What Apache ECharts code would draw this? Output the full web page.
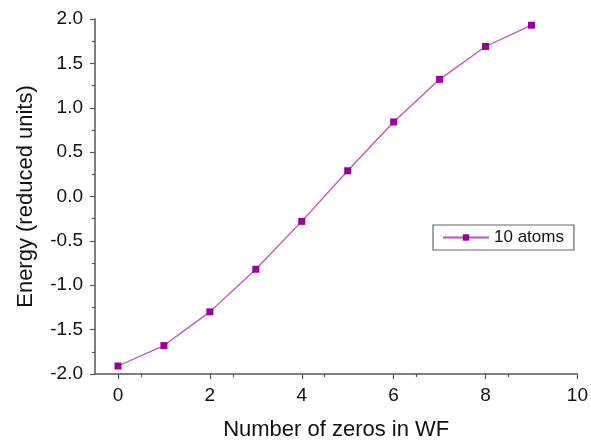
<!DOCTYPE html>
<html>
<head>
<meta charset="utf-8">
<script src="https://cdn.jsdelivr.net/npm/echarts@6/dist/echarts.min.js"></script>
<style>html,body{margin:0;padding:0;background:#fff;}#c{width:591px;height:446px;}</style>
</head>
<body>
<div id="c"></div>
<script>
const zerosX = [0, 1, 2, 3, 4, 5, 6, 7, 8, 9];
const energy = [-1.91, -1.68, -1.30, -0.82, -0.28, 0.29, 0.84, 1.32, 1.69, 1.93];
const seriesName = '10 atoms';
const xTitle = 'Number of zeros in WF';
const yTitle = 'Energy (reduced units)';
const xTickLabels = [0, 2, 4, 6, 8, 10];

const chart = echarts.init(document.getElementById('c'), null, {renderer: 'canvas'});
const font = 'Liberation Sans, Arial, sans-serif';
const axisCol = '#555555';
chart.setOption({
  animation: false,
  backgroundColor: '#fff',
  grid: {left: 95, right: 12, top: 19, bottom: 69, containLabel: false},
  legend: {
    data: [seriesName],
    left: 433, top: 225,
    orient: 'vertical',
    borderColor: '#666', borderWidth: 1.2,
    padding: [4, 10, 4, 9],
    itemWidth: 46, itemHeight: 8, itemGap: 0,
    textStyle: {fontFamily: font, fontSize: 17, color: '#111'}
  },
  xAxis: {
    type: 'value', min: -0.5, max: 10, interval: 2,
    name: xTitle, nameLocation: 'middle', nameGap: 45,
    nameTextStyle: {fontFamily: font, fontSize: 22, color: '#111'},
    axisLine: {show: true, onZero: false, lineStyle: {color: axisCol, width: 1.5}},
    axisTick: {show: true, length: 5, lineStyle: {color: axisCol, width: 1.2}, customValues: xTickLabels},
    minorTick: {show: true, splitNumber: 2, length: 3, lineStyle: {color: axisCol, width: 1.2}},
    axisLabel: {fontFamily: font, fontSize: 19, color: '#111', margin: 12, customValues: xTickLabels},
    splitLine: {show: false}
  },
  yAxis: {
    type: 'value', min: -2, max: 2, interval: 0.5,
    name: yTitle, nameLocation: 'middle', nameGap: 58,
    nameTextStyle: {fontFamily: font, fontSize: 22, color: '#111'},
    axisLine: {show: true, onZero: false, lineStyle: {color: axisCol, width: 1.5}},
    axisTick: {show: true, length: 5, lineStyle: {color: axisCol, width: 1.2}},
    minorTick: {show: true, splitNumber: 2, length: 3, lineStyle: {color: axisCol, width: 1.2}},
    axisLabel: {fontFamily: font, fontSize: 19, color: '#111', margin: 12,
      formatter: v => v.toFixed(1)},
    splitLine: {show: false}
  },
  series: [{
    name: seriesName,
    type: 'line',
    data: zerosX.map((x, i) => [x, energy[i]]),
    symbol: 'rect', symbolSize: 7,
    itemStyle: {color: '#990099'},
    lineStyle: {color: '#c050c0', width: 1.3},
    clip: false
  }]
});
</script>
</body>
</html>
